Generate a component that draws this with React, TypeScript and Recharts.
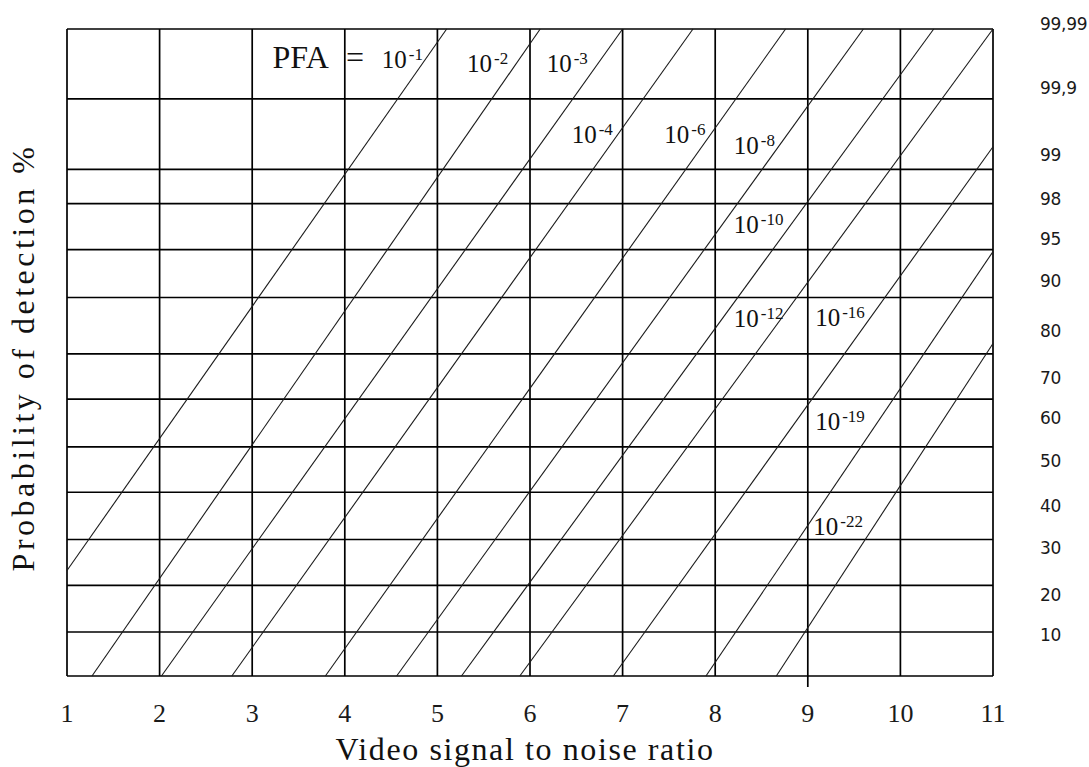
import { LineChart, Line, XAxis, YAxis, ReferenceLine, ReferenceDot } from 'recharts';

// x axis: video signal to noise ratio
const snrTicks = [1, 2, 3, 4, 5, 6, 7, 8, 9, 10, 11];

// y axis is a schematic probability scale, 0 = bottom edge, 100 = top edge
const gridRows = [6.8, 14.0, 21.1, 28.4, 35.4, 42.8, 49.8, 58.5, 65.9, 73.0, 78.3, 89.2];
const probLabels = ['99,99', '99,9', '99', '98', '95', '90', '80', '70', '60', '50', '40', '30', '20', '10'];
const probLabelPos = [100.8, 90.9, 80.5, 73.8, 67.6, 61.0, 53.4, 46.0, 39.8, 33.3, 26.2, 19.8, 12.5, 6.3];

// PFA curves (straight lines), start and end points
const pfaExp = ['-1', '-2', '-3', '-4', '-6', '-8', '-10', '-12', '-16', '-19', '-22'];
const snrStart = [1.0, 1.27, 2.02, 2.78, 3.79, 4.56, 5.26, 5.89, 6.9, 7.9, 8.66];
const pStart = [16.3, 0, 0, 0, 0, 0, 0, 0, 0, 0, 0];
const snrEnd = [5.1, 6.11, 7.0, 7.76, 8.76, 9.6, 10.36, 11.0, 11.0, 11.0, 11.0];
const pEnd = [100, 100, 100, 100, 100, 100, 100, 100, 81.8, 65.6, 51.4];

// where each curve's label sits
const labelSnr = [4.4, 5.32, 6.18, 6.45, 7.45, 8.2, 8.2, 8.2, 9.08, 9.08, 9.06];
const labelP = [93.9, 93.3, 93.3, 82.4, 82.4, 80.7, 68.5, 54.0, 54.1, 38.0, 21.8];

const SERIF = "'Liberation Serif', 'Times New Roman', serif";

const curves = pfaExp.map((exp, i) => ({
  exp,
  data: [
    { snr: snrStart[i], p: pStart[i] },
    { snr: snrEnd[i], p: pEnd[i] },
  ],
}));

const SnrTick = ({ x, y, payload }: any) => (
  <text x={x} y={y + 46} textAnchor="middle" fontFamily={SERIF} fontSize={26} fill="#1a1a1a">
    {payload.value}
  </text>
);

const probLabel = (text: string) => (props: any) => {
  const { x, y } = props.viewBox;
  return (
    <text
      x={x + 47}
      y={y}
      dominantBaseline="central"
      fontFamily="'DejaVu Sans', sans-serif"
      fontSize={17}
      letterSpacing={-0.3}
      fill="#1a1a1a"
    >
      {text}
    </text>
  );
};

const pfaLabel = (exp: string) => (props: any) => {
  const { x, y } = props.viewBox;
  return (
    <text x={x} y={y} fontFamily={SERIF} fontSize={25} fill="#111">
      10
      <tspan fontSize={17} dx={2} dy={-8}>
        {exp}
      </tspan>
    </text>
  );
};

const App = () => {
  return (
    <div style={{ position: 'absolute', top: 0, left: 0, background: '#fff' }}>
      <LineChart width={1089} height={767} margin={{ top: 29, right: 96, bottom: 0, left: 0 }}>
        <XAxis
          dataKey="snr"
          type="number"
          domain={[1, 11]}
          ticks={snrTicks}
          interval={0}
          height={91}
          axisLine={false}
          tickLine={false}
          tickSize={0}
          tickMargin={0}
          tick={<SnrTick />}
          label={{
            content: ({ viewBox }: any) => (
              <text
                x={viewBox.x + viewBox.width / 2 - 5}
                y={viewBox.y + 84}
                textAnchor="middle"
                fontFamily={SERIF}
                fontSize={32}
                letterSpacing={1.6}
                fill="#111"
              >
                Video signal to noise ratio
              </text>
            ),
          }}
        />
        <YAxis
          yAxisId="p"
          type="number"
          domain={[0, 100]}
          width={67}
          axisLine={false}
          tickLine={false}
          tick={false}
          label={{
            content: ({ viewBox }: any) => (
              <text
                transform={`translate(${viewBox.x + 34},${viewBox.y + viewBox.height / 2 + 5}) rotate(-90)`}
                textAnchor="middle"
                fontFamily={SERIF}
                fontSize={32}
                letterSpacing={3.5}
                fill="#111"
              >
                Probability of detection %
              </text>
            ),
          }}
        />

        {gridRows.concat([0, 100]).map((v) => (
          <ReferenceLine key={'h' + v} yAxisId="p" y={v} stroke="#000" strokeWidth={1.7} />
        ))}
        {snrTicks.map((v) => (
          <ReferenceLine key={'v' + v} yAxisId="p" x={v} stroke="#000" strokeWidth={1.7} />
        ))}
        <ReferenceLine
          yAxisId="p"
          segment={[
            { x: 9, y: 0 },
            { x: 9, y: -1.7 },
          ]}
          ifOverflow="visible"
          stroke="#000"
          strokeWidth={1.7}
        />

        {curves.map((c) => (
          <Line
            key={c.exp}
            yAxisId="p"
            data={c.data}
            dataKey="p"
            type="linear"
            stroke="#1a1a1a"
            strokeWidth={1.1}
            dot={false}
            activeDot={false}
            isAnimationActive={false}
          />
        ))}

        {probLabels.map((t, i) => (
          <ReferenceDot
            key={'p' + t}
            yAxisId="p"
            x={11}
            y={probLabelPos[i]}
            r={0}
            fill="none"
            stroke="none"
            ifOverflow="visible"
            label={probLabel(t)}
          />
        ))}

        <ReferenceDot
          yAxisId="p"
          x={3.22}
          y={94.0}
          r={0}
          fill="none"
          stroke="none"
          label={(props: any) => (
            <text x={props.viewBox.x} y={props.viewBox.y} fontFamily={SERIF} fontSize={32} fill="#111">
              PFA
              <tspan dx={17}>=</tspan>
            </text>
          )}
        />
        {pfaExp.map((exp, i) => (
          <ReferenceDot
            key={'l' + exp}
            yAxisId="p"
            x={labelSnr[i]}
            y={labelP[i]}
            r={0}
            fill="none"
            stroke="none"
            label={pfaLabel(exp)}
          />
        ))}
      </LineChart>
    </div>
  );
};

export default App;
